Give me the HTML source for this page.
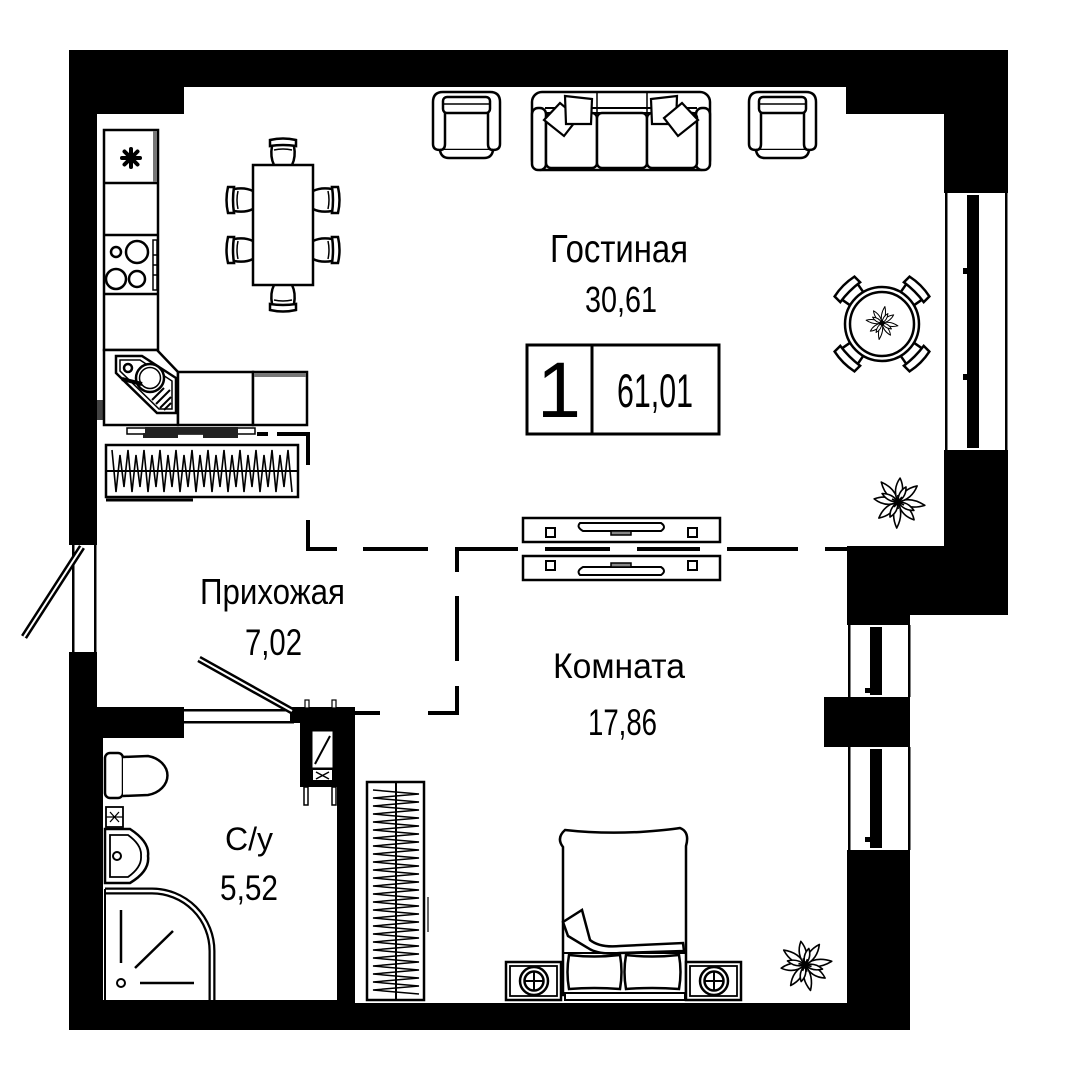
<!DOCTYPE html>
<html><head><meta charset="utf-8"><style>
html,body{margin:0;padding:0;background:#fff;}
svg{display:block;}
text{font-family:"Liberation Sans Narrow","Liberation Sans",sans-serif;fill:#000;}
</style></head><body>
<svg width="1080" height="1080" viewBox="0 0 1080 1080" xmlns="http://www.w3.org/2000/svg">
<rect x="0" y="0" width="1080" height="1080" fill="#fff"/>

<!-- ========== WALLS ========== -->
<g fill="#000">
  <rect x="69" y="50" width="939" height="37"/>
  <rect x="69" y="87" width="115" height="27"/>
  <rect x="846" y="87" width="162" height="27"/>
  <rect x="944" y="87" width="64" height="106"/>
  <rect x="944" y="450" width="64" height="96"/>
  <rect x="847" y="546" width="161" height="69"/>
  <rect x="847" y="615" width="63" height="10"/>
  <rect x="824" y="697" width="86" height="50"/>
  <rect x="847" y="850" width="63" height="180"/>
  <rect x="69" y="1003" width="841" height="27"/>
  <rect x="69" y="1000" width="286" height="5"/>
  <rect x="69" y="50" width="28" height="495"/>
  <rect x="69" y="652" width="28" height="378"/>
  <rect x="69" y="738" width="34" height="292"/>
  <rect x="97" y="707" width="87" height="31"/>
  <rect x="290" y="707" width="65" height="16"/>
  <rect x="300" y="720" width="38" height="67"/>
  <rect x="337" y="707" width="18" height="323"/>
  <rect x="97" y="400" width="6" height="20" fill="#444"/>
</g>

<!-- windows right upper -->
<g>
  <rect x="944" y="193" width="64" height="257" fill="#fff"/>
  <rect x="945" y="193" width="2.5" height="257" fill="#000"/>
  <rect x="1005" y="193" width="2.5" height="257" fill="#000"/>
  <rect x="967" y="195" width="12" height="253" fill="#000"/>
  <rect x="963" y="268" width="5" height="6" fill="#000"/>
  <rect x="963" y="374" width="5" height="6" fill="#000"/>
</g>
<!-- windows right lower -->
<g>
  <rect x="847" y="625" width="63" height="72" fill="#fff"/>
  <rect x="848" y="625" width="2.5" height="72" fill="#000"/>
  <rect x="908" y="625" width="2.5" height="72" fill="#000"/>
  <rect x="870" y="627" width="12" height="68" fill="#000"/>
  <rect x="847" y="747" width="63" height="103" fill="#fff"/>
  <rect x="848" y="747" width="2.5" height="103" fill="#000"/>
  <rect x="908" y="747" width="2.5" height="103" fill="#000"/>
  <rect x="870" y="749" width="12" height="99" fill="#000"/>
  <rect x="865" y="688" width="6" height="5" fill="#000"/>
  <rect x="865" y="837" width="6" height="5" fill="#000"/>
</g>
<!-- entrance opening -->
<g>
  <rect x="72" y="545" width="2.5" height="107" fill="#000"/>
  <rect x="94" y="545" width="2.5" height="107" fill="#000"/>
  <line x1="82" y1="547" x2="24" y2="637" stroke="#000" stroke-width="7"/>
  <line x1="82" y1="547" x2="24" y2="637" stroke="#fff" stroke-width="2"/>
</g>
<!-- bathroom door -->
<g>
  <rect x="184" y="709" width="110" height="2.5" fill="#000"/>
  <rect x="184" y="721" width="110" height="2.5" fill="#000"/>
  <line x1="292" y1="711" x2="199" y2="659" stroke="#000" stroke-width="7"/>
  <line x1="292" y1="711" x2="199" y2="659" stroke="#fff" stroke-width="2"/>
</g>
<!-- shaft -->
<g>
  <rect x="313" y="732" width="19" height="35" fill="#fff" stroke="#fff"/>
  <line x1="315" y1="764" x2="330" y2="736" stroke="#000" stroke-width="2"/>
  <rect x="313" y="770" width="19" height="10" fill="#fff"/>
  <path d="M316 772 L329 779 M329 772 L316 779" stroke="#000" stroke-width="1.5"/>
  <rect x="305" y="700" width="4" height="8" fill="#fff" stroke="#000" stroke-width="1.2"/>
  <rect x="332" y="700" width="4" height="8" fill="#fff" stroke="#000" stroke-width="1.2"/>
  <rect x="304" y="787" width="4" height="18" fill="#fff" stroke="#000" stroke-width="1.5"/>
  <rect x="332" y="787" width="4" height="18" fill="#fff" stroke="#000" stroke-width="1.5"/>
</g>

<!-- ========== DASHED ROOM BOUNDARIES ========== -->
<g stroke="#000" stroke-width="4" fill="none" stroke-linecap="butt">
  <path d="M257 434 H268"/>
  <path d="M277 434 H308 V465"/>
  <path d="M308 520 V549 H337"/>
  <path d="M363 549 H428"/>
  <path d="M457 572 V549 H518"/>
  <path d="M545 549 H610"/>
  <path d="M637 549 H700"/>
  <path d="M727 549 H798"/>
  <path d="M825 549 H848"/>
  <path d="M457 596 V661"/>
  <path d="M428 713 H457 V686"/>
  <path d="M355 713 H380"/>
</g>

<!-- ========== KITCHEN ========== -->
<g stroke="#000" stroke-width="2.5" fill="#fff">
  <rect x="104" y="130" width="54" height="220"/>
  <line x1="104" y1="183" x2="158" y2="183"/>
  <line x1="104" y1="235" x2="158" y2="235"/>
  <line x1="104" y1="294" x2="158" y2="294"/>
  <rect x="153" y="131" width="4" height="51" fill="#777" stroke="none"/>
  <rect x="153" y="240" width="4" height="50" fill="#fff" stroke-width="1.5"/>
  <line x1="153" y1="255" x2="157" y2="255" stroke-width="1.5"/>
  <line x1="153" y1="265" x2="157" y2="265" stroke-width="1.5"/>
  <line x1="153" y1="275" x2="157" y2="275" stroke-width="1.5"/>
  <circle cx="116" cy="252" r="5"/>
  <circle cx="137" cy="252" r="11"/>
  <circle cx="116" cy="279" r="10"/>
  <circle cx="137" cy="279" r="8"/>
  <g stroke-width="4" stroke-linecap="round">
    <line x1="131" y1="149" x2="131" y2="167"/>
    <line x1="122" y1="158" x2="140" y2="158"/>
    <line x1="124.5" y1="151.5" x2="137.5" y2="164.5"/>
    <line x1="137.5" y1="151.5" x2="124.5" y2="164.5"/>
  </g>
  <polygon points="104,350 157,350 178,372 178,425 104,425"/>
  <rect x="178" y="372" width="75" height="53"/>
  <rect x="253" y="372" width="54" height="53"/>
  <rect x="254" y="373" width="52" height="4" fill="#777" stroke="none"/>
  <polygon points="116,356 142,356 176,378 176,413 157,413 116,373" stroke-width="2.5"/>
  <polygon points="120,360 140,360 172,381 172,409 159,409 120,371" stroke-width="1.5" fill="none"/>
  <circle cx="150" cy="378" r="14"/>
  <circle cx="150" cy="378" r="10.5" stroke-width="1.5"/>
  <circle cx="128" cy="368" r="4"/>
  <line x1="122" y1="379" x2="142" y2="384" stroke-width="4"/>
  <g stroke-width="2">
    <line x1="160" y1="408" x2="171" y2="397"/>
    <line x1="156" y1="404" x2="170" y2="390"/>
    <line x1="152" y1="400" x2="164" y2="388"/>
    <line x1="164" y1="410" x2="171" y2="403"/>
  </g>
  <rect x="127" y="428" width="128" height="6" stroke-width="1.5"/>
  <rect x="145" y="427" width="93" height="7" fill="#222" stroke="none"/>
  <rect x="143" y="433" width="35" height="5" fill="#222" stroke="none"/>
  <rect x="203" y="433" width="35" height="5" fill="#222" stroke="none"/>
  <!-- radiator -->
  <rect x="106" y="445" width="192" height="52"/>
  <line x1="106" y1="471" x2="298" y2="471" stroke-width="2"/>
  <polyline fill="none" stroke-width="1.6" points="112,450 116,492 120,455 124,487 128,450 132,492 136,455 140,487 144,450 148,492 152,455 156,487 160,450 164,492 168,455 172,487 176,450 180,492 184,455 188,487 192,450 196,492 200,455 204,487 208,450 212,492 216,455 220,487 224,450 228,492 232,455 236,487 240,450 244,492 248,455 252,487 256,450 260,492 264,455 268,487 272,450 276,492 280,455 284,487 288,450 292,492"/>
  <line x1="106" y1="500" x2="193" y2="500" stroke-width="3"/>
</g>

<!-- ========== DINING TABLE ========== -->
<g stroke="#000" stroke-width="2.5" fill="#fff">
  <rect x="253" y="165" width="60" height="120"/>
  <g transform="translate(283,165)"><path d="M-13 -25 Q0 -28 13 -25 L13 -19 Q0 -21 -13 -19 Z"/><path d="M-11 -19 Q-13 -8 -9 0 M11 -19 Q13 -8 9 0" fill="none"/><path d="M-9 -15 Q0 -17 9 -15" fill="none" stroke-width="1.5"/></g>
  <g transform="translate(283,285) rotate(180)"><path d="M-13 -25 Q0 -28 13 -25 L13 -19 Q0 -21 -13 -19 Z"/><path d="M-11 -19 Q-13 -8 -9 0 M11 -19 Q13 -8 9 0" fill="none"/><path d="M-9 -15 Q0 -17 9 -15" fill="none" stroke-width="1.5"/></g>
  <g transform="translate(253,200) rotate(-90)"><path d="M-13 -25 Q0 -28 13 -25 L13 -19 Q0 -21 -13 -19 Z"/><path d="M-11 -19 Q-13 -8 -9 0 M11 -19 Q13 -8 9 0" fill="none"/><path d="M-9 -15 Q0 -17 9 -15" fill="none" stroke-width="1.5"/></g>
  <g transform="translate(253,250) rotate(-90)"><path d="M-13 -25 Q0 -28 13 -25 L13 -19 Q0 -21 -13 -19 Z"/><path d="M-11 -19 Q-13 -8 -9 0 M11 -19 Q13 -8 9 0" fill="none"/><path d="M-9 -15 Q0 -17 9 -15" fill="none" stroke-width="1.5"/></g>
  <g transform="translate(313,200) rotate(90)"><path d="M-13 -25 Q0 -28 13 -25 L13 -19 Q0 -21 -13 -19 Z"/><path d="M-11 -19 Q-13 -8 -9 0 M11 -19 Q13 -8 9 0" fill="none"/><path d="M-9 -15 Q0 -17 9 -15" fill="none" stroke-width="1.5"/></g>
  <g transform="translate(313,250) rotate(90)"><path d="M-13 -25 Q0 -28 13 -25 L13 -19 Q0 -21 -13 -19 Z"/><path d="M-11 -19 Q-13 -8 -9 0 M11 -19 Q13 -8 9 0" fill="none"/><path d="M-9 -15 Q0 -17 9 -15" fill="none" stroke-width="1.5"/></g>
</g>

<!-- ========== ARMCHAIRS & SOFA ========== -->
<g stroke="#000" stroke-width="2.5" fill="#fff">
  <g transform="translate(433,92)">
    <path d="M10 0 H57 Q67 0 67 10 V52 Q67 58 60 58 H7 Q0 58 0 52 V10 Q0 0 10 0 Z"/>
    <path d="M7 58 Q8 66 16 66 H51 Q59 66 60 58"/>
    <rect x="10" y="5" width="47" height="16" rx="4"/>
    <line x1="10" y1="12" x2="57" y2="12" stroke-width="1.5"/>
    <path d="M12 21 V52 Q12 58 7 58 M55 21 V52 Q55 58 60 58" fill="none"/>
  </g>
  <g transform="translate(749,92)">
    <path d="M10 0 H57 Q67 0 67 10 V52 Q67 58 60 58 H7 Q0 58 0 52 V10 Q0 0 10 0 Z"/>
    <path d="M7 58 Q8 66 16 66 H51 Q59 66 60 58"/>
    <rect x="10" y="5" width="47" height="16" rx="4"/>
    <line x1="10" y1="12" x2="57" y2="12" stroke-width="1.5"/>
    <path d="M12 21 V52 Q12 58 7 58 M55 21 V52 Q55 58 60 58" fill="none"/>
  </g>
  <!-- sofa -->
  <rect x="532" y="92" width="178" height="78" rx="10"/>
  <line x1="545" y1="108" x2="697" y2="108" stroke-width="2"/>
  <line x1="545" y1="113" x2="697" y2="113" stroke-width="2"/>
  <rect x="532" y="108" width="14" height="62" rx="6"/>
  <rect x="696" y="108" width="14" height="62" rx="6"/>
  <rect x="546" y="113" width="51" height="55" rx="5"/>
  <rect x="597" y="113" width="50" height="55" rx="5"/>
  <rect x="647" y="113" width="50" height="55" rx="5"/>
  <line x1="597" y1="92" x2="597" y2="113" stroke-width="1.5"/>
  <line x1="647" y1="92" x2="647" y2="113" stroke-width="1.5"/>
  <path d="M544 120 L560 103 L578 118 L564 136 Z" stroke-width="2.2"/>
  <path d="M565 96 L592 99 L591 124 L566 124 Z" stroke-width="2.2"/>
  <path d="M651 99 L677 96 L676 124 L652 124 Z" stroke-width="2.2"/>
  <path d="M698 120 L682 103 L664 118 L678 136 Z" stroke-width="2.2"/>
</g>

<!-- ========== ROUND TABLE ========== -->
<g stroke="#000" stroke-width="2.5" fill="#fff">
  <g transform="translate(882,324) rotate(-45)"><path d="M-14 -53 Q0 -56 14 -53 L14 -45 Q0 -47 -14 -45 Z"/><path d="M-11 -45 L-9 -34 M11 -45 L9 -34" fill="none"/></g>
  <g transform="translate(882,324) rotate(45)"><path d="M-14 -53 Q0 -56 14 -53 L14 -45 Q0 -47 -14 -45 Z"/><path d="M-11 -45 L-9 -34 M11 -45 L9 -34" fill="none"/></g>
  <g transform="translate(882,324) rotate(135)"><path d="M-14 -53 Q0 -56 14 -53 L14 -45 Q0 -47 -14 -45 Z"/><path d="M-11 -45 L-9 -34 M11 -45 L9 -34" fill="none"/></g>
  <g transform="translate(882,324) rotate(225)"><path d="M-14 -53 Q0 -56 14 -53 L14 -45 Q0 -47 -14 -45 Z"/><path d="M-11 -45 L-9 -34 M11 -45 L9 -34" fill="none"/></g>
  <circle cx="882" cy="324" r="37"/>
  <circle cx="882" cy="324" r="32"/>
</g>

<!-- ========== PLANTS (outlined leaves) ========== -->
<g stroke="#000" stroke-width="1.6" fill="#fff" stroke-linejoin="round">
  <!-- table plant -->
  <g transform="translate(882,323) scale(0.62)">
    <g transform="rotate(10)"><path d="M0 0 Q12 -6 26 0 Q12 6 0 0 Z"/></g>
    <g transform="rotate(55)"><path d="M0 0 Q12 -6 24 0 Q12 6 0 0 Z"/></g>
    <g transform="rotate(100)"><path d="M0 0 Q12 -6 27 0 Q12 6 0 0 Z"/></g>
    <g transform="rotate(145)"><path d="M0 0 Q12 -6 23 0 Q12 6 0 0 Z"/></g>
    <g transform="rotate(190)"><path d="M0 0 Q12 -6 26 0 Q12 6 0 0 Z"/></g>
    <g transform="rotate(235)"><path d="M0 0 Q12 -6 24 0 Q12 6 0 0 Z"/></g>
    <g transform="rotate(280)"><path d="M0 0 Q12 -6 27 0 Q12 6 0 0 Z"/></g>
    <g transform="rotate(325)"><path d="M0 0 Q12 -6 23 0 Q12 6 0 0 Z"/></g>
    <g transform="rotate(32)"><path d="M0 0 Q9 -5 18 0 Q9 5 0 0 Z"/></g>
    <g transform="rotate(122)"><path d="M0 0 Q9 -5 18 0 Q9 5 0 0 Z"/></g>
    <g transform="rotate(212)"><path d="M0 0 Q9 -5 18 0 Q9 5 0 0 Z"/></g>
    <g transform="rotate(302)"><path d="M0 0 Q9 -5 18 0 Q9 5 0 0 Z"/></g>
    <circle cx="0" cy="0" r="3.5" fill="#000"/>
  </g>
  <!-- living plant -->
  <g transform="translate(898,502)">
    <g transform="rotate(5)"><path d="M0 0 Q12 -7 27 1 Q12 7 0 0 Z"/></g>
    <g transform="rotate(48)"><path d="M0 0 Q12 -7 24 0 Q12 7 0 0 Z"/></g>
    <g transform="rotate(95)"><path d="M0 0 Q12 -7 26 -1 Q12 7 0 0 Z"/></g>
    <g transform="rotate(140)"><path d="M0 0 Q12 -7 25 0 Q12 7 0 0 Z"/></g>
    <g transform="rotate(185)"><path d="M0 0 Q12 -7 24 1 Q12 7 0 0 Z"/></g>
    <g transform="rotate(230)"><path d="M0 0 Q12 -7 26 0 Q12 7 0 0 Z"/></g>
    <g transform="rotate(275)"><path d="M0 0 Q12 -7 24 0 Q12 7 0 0 Z"/></g>
    <g transform="rotate(320)"><path d="M0 0 Q12 -7 25 0 Q12 7 0 0 Z"/></g>
    <g transform="rotate(28)"><path d="M0 0 Q9 -5 18 0 Q9 5 0 0 Z"/></g>
    <g transform="rotate(118)"><path d="M0 0 Q9 -5 17 0 Q9 5 0 0 Z"/></g>
    <g transform="rotate(208)"><path d="M0 0 Q9 -5 18 0 Q9 5 0 0 Z"/></g>
    <g transform="rotate(298)"><path d="M0 0 Q9 -5 17 0 Q9 5 0 0 Z"/></g>
    <path d="M-6 -3 L6 3 M-4 5 L4 -5 M0 -7 L0 7" stroke-width="1.8" fill="none"/>
    <circle cx="0" cy="0" r="3" fill="#000"/>
  </g>
  <!-- bedroom plant -->
  <g transform="translate(805,965) rotate(-15)">
    <g transform="rotate(5)"><path d="M0 0 Q12 -7 27 1 Q12 7 0 0 Z"/></g>
    <g transform="rotate(48)"><path d="M0 0 Q12 -7 24 0 Q12 7 0 0 Z"/></g>
    <g transform="rotate(95)"><path d="M0 0 Q12 -7 26 -1 Q12 7 0 0 Z"/></g>
    <g transform="rotate(140)"><path d="M0 0 Q12 -7 25 0 Q12 7 0 0 Z"/></g>
    <g transform="rotate(185)"><path d="M0 0 Q12 -7 24 1 Q12 7 0 0 Z"/></g>
    <g transform="rotate(230)"><path d="M0 0 Q12 -7 26 0 Q12 7 0 0 Z"/></g>
    <g transform="rotate(275)"><path d="M0 0 Q12 -7 24 0 Q12 7 0 0 Z"/></g>
    <g transform="rotate(320)"><path d="M0 0 Q12 -7 25 0 Q12 7 0 0 Z"/></g>
    <g transform="rotate(28)"><path d="M0 0 Q9 -5 18 0 Q9 5 0 0 Z"/></g>
    <g transform="rotate(118)"><path d="M0 0 Q9 -5 17 0 Q9 5 0 0 Z"/></g>
    <g transform="rotate(208)"><path d="M0 0 Q9 -5 18 0 Q9 5 0 0 Z"/></g>
    <g transform="rotate(298)"><path d="M0 0 Q9 -5 17 0 Q9 5 0 0 Z"/></g>
    <path d="M-6 -3 L6 3 M-4 5 L4 -5 M0 -7 L0 7" stroke-width="1.8" fill="none"/>
    <circle cx="0" cy="0" r="3" fill="#000"/>
  </g>
</g>

<!-- ========== AREA BOX ========== -->
<g stroke="#000" stroke-width="3" fill="none">
  <rect x="527" y="345" width="192" height="89"/>
  <line x1="592" y1="345" x2="592" y2="434"/>
</g>

<!-- ========== TV STANDS ========== -->
<g stroke="#000" stroke-width="2.5" fill="#fff">
  <rect x="523" y="518" width="197" height="24"/>
  <rect x="546" y="528" width="9" height="9" stroke-width="2"/>
  <rect x="688" y="528" width="9" height="9" stroke-width="2"/>
  <path d="M580 523 H661 Q667 527 661 531 H583 Q576 527 580 523 Z" stroke-width="2"/>
  <rect x="611" y="531" width="20" height="4" fill="#888" stroke-width="1.5"/>
  <rect x="523" y="556" width="197" height="24"/>
  <rect x="546" y="561" width="9" height="9" stroke-width="2"/>
  <rect x="688" y="561" width="9" height="9" stroke-width="2"/>
  <path d="M583 567 H661 Q667 571 661 575 H580 Q576 571 583 567 Z" stroke-width="2"/>
  <rect x="611" y="563" width="20" height="4" fill="#888" stroke-width="1.5"/>
</g>

<!-- ========== BATHROOM ========== -->
<g stroke="#000" stroke-width="2.5" fill="#fff">
  <rect x="105" y="753" width="18" height="45" rx="5"/>
  <path d="M123 757 L148 756 A 25 20 0 0 1 148 795 L123 796"/>
  <rect x="106" y="807" width="17" height="20" stroke-width="1.8"/>
  <path d="M110 812 L119 822 M119 812 L110 822 M106 817 H123" stroke-width="1.3" fill="none"/>
  <path d="M105 829 L130 829 Q150 842 148 856 Q150 871 130 883 L105 883 Z"/>
  <path d="M110 835 L128 835 Q142 845 141 856 Q142 867 128 877 L110 877 Z" stroke-width="1.8"/>
  <circle cx="117" cy="856" r="4" stroke-width="2"/>
  <path d="M105 891 H152 A 60 60 0 0 1 212 951 V1000" fill="none" stroke-width="7"/>
  <path d="M105 891 H152 A 60 60 0 0 1 212 951 V1000" fill="none" stroke="#fff" stroke-width="2.5"/>
  <line x1="105" y1="889" x2="105" y2="1000" stroke-width="2"/>
  <line x1="121" y1="910" x2="121" y2="963" stroke-width="2.5"/>
  <line x1="135" y1="968" x2="173" y2="931" stroke-width="2.5"/>
  <circle cx="121" cy="983" r="4" stroke-width="2"/>
  <line x1="140" y1="983" x2="194" y2="983" stroke-width="2.5"/>
</g>

<!-- ========== WARDROBE ========== -->
<g stroke="#000" fill="#fff">
  <rect x="367" y="782" width="57" height="218" stroke-width="2.5"/>
  <polyline fill="none" stroke-width="1.5" points="373,790 419,794 373,798 419,802 373,806 419,810 373,814 419,818 373,822 419,826 373,830 419,834 373,838 419,842 373,846 419,850 373,854 419,858 373,862 419,866 373,870 419,874 373,878 419,882 373,886 419,890 373,894 419,898 373,902 419,906 373,910 419,914 373,918 419,922 373,926 419,930 373,934 419,938 373,942 419,946 373,950 419,954 373,958 419,962 373,966 419,970 373,974 419,978 373,982 419,986 373,990 419,994"/>
  <line x1="396" y1="782" x2="396" y2="1000" stroke-width="2"/>
  <line x1="428" y1="897" x2="428" y2="932" stroke-width="2" stroke="#666"/>
</g>

<!-- ========== BED ========== -->
<g stroke="#000" stroke-width="2.5" fill="#fff">
  <path d="M565 830 Q600 834 640 832 Q668 830 680 828 Q690 832 686 846 L686 995 L563 995 L563 847 Q556 838 565 830 Z"/>
  <path d="M563 922 L582 910 L590 940 Q600 948 620 946 L683 943 L684 951 L620 953 Q598 955 588 948 L568 936 Z"/>
  <line x1="563" y1="953" x2="686" y2="953" stroke-width="2"/>
  <path d="M569 955 Q594 958 620 955 Q623 972 620 989 Q594 987 569 989 Q566 972 569 955 Z"/>
  <path d="M626 955 Q652 958 679 955 Q682 972 679 989 Q652 987 626 989 Q623 972 626 955 Z"/>
  <rect x="565" y="993" width="120" height="7" stroke-width="2"/>
  <rect x="506" y="962" width="55" height="38"/>
  <rect x="510" y="966" width="47" height="30" stroke-width="1.8"/>
  <circle cx="534" cy="981" r="14"/>
  <circle cx="534" cy="981" r="9.5"/>
  <path d="M524.5 981 H543.5 M534 971.5 V990.5" stroke-width="2"/>
  <rect x="686" y="962" width="55" height="38"/>
  <rect x="690" y="966" width="47" height="30" stroke-width="1.8"/>
  <circle cx="714" cy="981" r="14"/>
  <circle cx="714" cy="981" r="9.5"/>
  <path d="M704.5 981 H723.5 M714 971.5 V990.5" stroke-width="2"/>
</g>

<!-- ========== LABELS ========== -->
<g>
  <text x="550" y="262" font-size="39" textLength="138" lengthAdjust="spacingAndGlyphs">Гостиная</text>
  <text x="585" y="312" font-size="36" textLength="72" lengthAdjust="spacingAndGlyphs">30,61</text>
  <text x="559" y="417" font-size="79" text-anchor="middle">1</text>
  <text x="617" y="407" font-size="47" textLength="76" lengthAdjust="spacingAndGlyphs">61,01</text>
  <text x="200" y="604" font-size="36" textLength="145" lengthAdjust="spacingAndGlyphs">Прихожая</text>
  <text x="245" y="655" font-size="37" textLength="57" lengthAdjust="spacingAndGlyphs">7,02</text>
  <text x="553" y="678" font-size="35" textLength="132" lengthAdjust="spacingAndGlyphs">Комната</text>
  <text x="588" y="735" font-size="37" textLength="69" lengthAdjust="spacingAndGlyphs">17,86</text>
  <text x="225" y="850" font-size="32" textLength="48" lengthAdjust="spacingAndGlyphs">С/у</text>
  <text x="220" y="900" font-size="35" textLength="58" lengthAdjust="spacingAndGlyphs">5,52</text>
</g>
</svg>
</body></html>
